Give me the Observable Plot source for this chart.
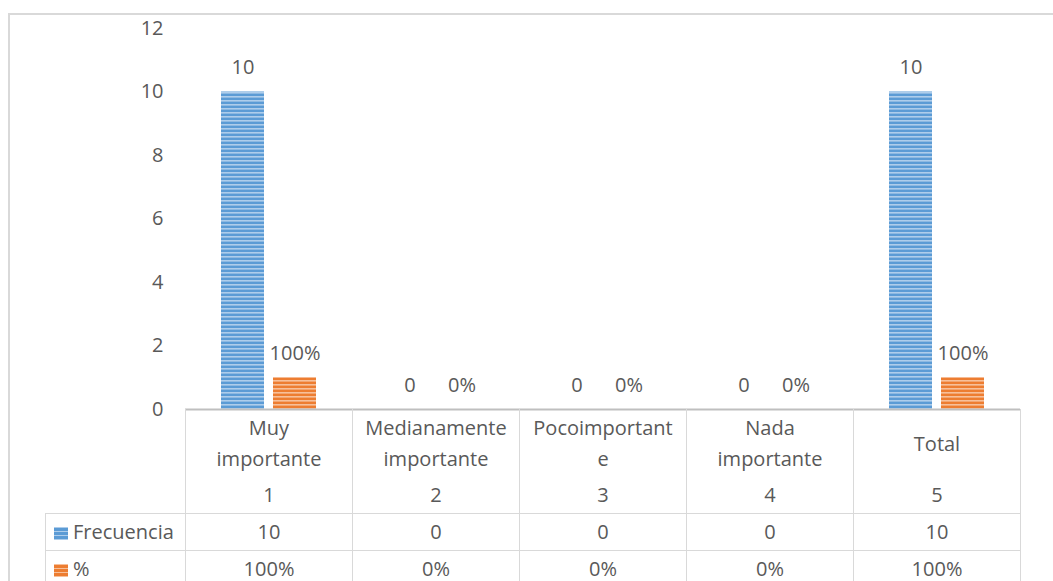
<!DOCTYPE html>
<html><head><meta charset="utf-8">
<script src="https://cdn.jsdelivr.net/npm/d3@7"></script>
<script src="https://cdn.jsdelivr.net/npm/@observablehq/plot@0.6"></script>
<style>
body{margin:0;background:#fff;font-family:"Open Sans",sans-serif;color:#595959}
#wrap{position:relative;width:1053px;height:581px;overflow:hidden;background:#fff}
#frame{position:absolute;left:8px;top:13px;width:1100px;height:600px;border-top:2px solid #D9D9D9;border-left:2px solid #D9D9D9;box-sizing:border-box}
#chart{position:absolute;left:0;top:0}
#tbl{position:absolute;left:45px;top:409px;border-collapse:collapse;font-size:20px;color:#595959;table-layout:fixed}
#tbl td{border:1px solid #D9D9D9;text-align:center;padding:0;vertical-align:top}
#tbl tr.head td{border-top:none}
#tbl td.blank{border-left:none;border-top:none}
#tbl td.key{text-align:left;padding-left:8px;vertical-align:middle}
.lab{height:68px;display:flex;align-items:center;justify-content:center;white-space:pre-line;line-height:31px}
.num{height:36px;line-height:36px}
.row td{height:36px;line-height:36px}
.sw{display:inline-block;width:14px;height:13px;margin-right:5px;vertical-align:-1px}
</style>
</head><body>
<div id="wrap"><div id="frame"></div><div id="chart"></div><table id="tbl"></table></div>
<script>
const categories = ["Muy\nimportante","Medianamente\nimportante","Pocoimportant\ne","Nada\nimportante","Total"];
const categoryNumbers = ["1","2","3","4","5"];
const series = ["Frecuencia","%"];
const frecuencia = [10,0,0,0,10];
const porcentaje = [1,0,0,0,1];
const frecuenciaLabels = ["10","0","0","0","10"];
const porcentajeLabels = ["100%","0%","0%","0%","100%"];
const yTicks = [0,2,4,6,8,10,12];

const rows = categories.flatMap((c,i)=>[
  {cat:c, series:series[0], value:frecuencia[i], label:frecuenciaLabels[i]},
  {cat:c, series:series[1], value:porcentaje[i], label:porcentajeLabels[i]}
]);

const plot = Plot.plot({
  width:1053, height:420,
  marginLeft:185, marginRight:33, marginTop:28, marginBottom:11,
  style:{fontFamily:"Open Sans", fontSize:"20px", color:"#595959", background:"transparent", overflow:"visible"},
  fx:{domain:categories, padding:0, axis:null},
  x:{domain:series, paddingInner:0.173, paddingOuter:0.69, axis:null},
  y:{domain:[0,12], ticks:yTicks, tickSize:0, tickPadding:22, label:null, tickFormat:d=>String(d)},
  color:{domain:series, range:["url(#stripeBlue)","url(#stripeOrange)"]},
  marks:[
    Plot.barY(rows,{fx:"cat", x:"series", y:"value", fill:"series"}),
    Plot.text(rows,{fx:"cat", x:"series", y:"value", text:"label", lineAnchor:"bottom", dy:-18, fill:"#595959"}),
    Plot.ruleY([0],{stroke:"#BFBFBF", strokeWidth:2})
  ]
});

const defs = d3.select(plot).insert("defs", ":first-child");
function pattern(id, base, light){
  const p = defs.append("pattern").attr("id", id).attr("patternUnits","userSpaceOnUse")
    .attr("width", 8).attr("height", 4);
  p.append("rect").attr("width",8).attr("height",4).attr("fill", base);
  p.append("rect").attr("y",0).attr("width",8).attr("height",1.6).attr("fill", light);
}
pattern("stripeBlue", "#5B9BD5", "#AECDEB");
pattern("stripeOrange", "#ED7D31", "#F7C09A");
document.getElementById("chart").appendChild(plot);

// data table
const tbl = d3.select("#tbl");
const cg = tbl.append("colgroup");
cg.append("col").style("width","140px");
categories.forEach(()=>cg.append("col").style("width","167px"));
const head = tbl.append("tr").attr("class","head");
head.append("td").attr("class","blank");
categories.forEach((c,i)=>{
  const td = head.append("td");
  td.append("div").attr("class","lab").text(c);
  td.append("div").attr("class","num").text(categoryNumbers[i]);
});
const swatches = ["repeating-linear-gradient(to bottom,#AECDEB 0 1.5px,#5B9BD5 1.5px 4px)",
                  "repeating-linear-gradient(to bottom,#F7C09A 0 1.5px,#ED7D31 1.5px 4px)"];
[[series[0], frecuenciaLabels],[series[1], porcentajeLabels]].forEach(([name, vals], k)=>{
  const tr = tbl.append("tr").attr("class","row");
  const key = tr.append("td").attr("class","key");
  key.append("span").attr("class","sw").style("background", swatches[k]);
  key.append("span").text(name);
  vals.forEach(v=>tr.append("td").text(v));
});
</script>
</body></html>
